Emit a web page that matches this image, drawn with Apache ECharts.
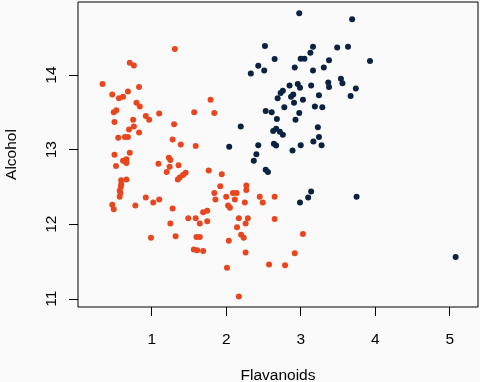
<!DOCTYPE html>
<html>
<head>
<meta charset="utf-8">
<script src="https://cdn.jsdelivr.net/npm/echarts@6/dist/echarts.min.js"></script>
<style>
html, body { margin: 0; padding: 0; background: #fafafa; }
#chart { width: 480px; height: 382px; }
</style>
</head>
<body>
<div id="chart"></div>
<script>
// tick labels
var xTicks = [1, 2, 3, 4, 5]
var yTicks = [11, 12, 13, 14]

// orange group
var orangeFlav = [1.31,0.705,0.76,0.34,0.83,0.47,0.56,0.615,0.68,1.10,
    0.795,0.84,0.49,0.525,0.92,0.965,0.50,0.75,1.30,0.76,
    0.695,0.83,0.55,0.64,0.68,1.28,1.39,0.50,0.705,0.615,
    0.66,0.66,0.52,1.23,1.25,1.09,1.36,1.24,1.20,1.455,
    1.42,1.375,1.35,0.66,0.59,0.59,0.585,0.57,0.58,0.57,
    0.92,1.10,1.02,0.78,0.47,0.49,1.28,1.49,1.25,0.99,
    1.32,1.59,1.765,1.94,1.92,2.27,2.27,1.84,1.855,2.09,
    2.14,2.0,2.115,2.45,2.65,2.25,2.49,2.025,2.05,1.69,
    1.745,1.59,1.645,1.745,2.17,2.29,2.26,2.65,2.145,2.20,
    2.235,1.60,1.645,2.035,1.565,1.61,1.69,2.26,2.01,2.17,
    2.575,2.79,2.92,3.03,1.79,1.57,1.84]
var orangeAlc = [14.35,14.165,14.13,13.88,13.84,13.74,13.69,13.71,13.78,13.485,
    13.63,13.58,13.50,13.53,13.45,13.40,13.37,13.40,13.34,13.31,
    13.27,13.23,13.16,13.17,13.17,13.135,13.07,12.93,12.96,12.85,
    12.87,12.82,12.78,12.89,12.86,12.81,12.79,12.77,12.70,12.69,
    12.66,12.625,12.60,12.60,12.59,12.535,12.50,12.45,12.42,12.37,
    12.36,12.33,12.29,12.25,12.26,12.20,12.21,12.08,12.01,11.82,
    11.84,13.05,12.72,12.67,12.51,12.52,12.46,12.42,12.33,12.42,
    12.42,12.37,12.33,12.37,12.37,12.29,12.29,12.25,12.22,12.16,
    12.18,12.08,12.01,12.04,12.08,12.08,12.01,12.07,11.96,11.86,
    11.82,11.83,11.83,11.78,11.66,11.65,11.64,11.62,11.415,11.03,
    11.46,11.45,11.61,11.87,13.67,13.50,13.49]

// navy group
var navyFlav = [2.98,3.69,2.52,3.165,3.13,3.49,3.635,2.65,3.0,3.05,
    3.38,3.93,2.43,2.51,2.33,2.92,3.165,3.31,2.85,2.76,
    2.73,2.96,2.99,3.14,2.90,2.87,2.69,3.245,3.37,3.38,
    3.03,2.91,3.54,3.56,3.74,3.67,3.19,3.29,2.78,2.53,
    2.61,2.98,2.68,2.93,2.195,2.67,2.63,2.72,2.76,3.23,
    3.245,3.17,3.28,2.43,2.64,2.67,3.0,2.89,2.04,2.405,
    2.37,2.53,2.56,3.14,3.10,2.99,3.75,5.08]
var navyAlc = [14.83,14.75,14.39,14.38,14.30,14.37,14.38,14.215,14.22,14.22,
    14.20,14.19,14.125,14.06,14.02,14.10,14.06,14.10,13.86,13.79,
    13.76,13.88,13.83,13.86,13.74,13.71,13.69,13.73,13.90,13.84,
    13.67,13.63,13.95,13.89,13.82,13.72,13.58,13.57,13.57,13.52,
    13.50,13.49,13.41,13.40,13.31,13.28,13.25,13.24,13.20,13.30,
    13.17,13.11,13.06,13.06,13.08,13.055,13.06,12.99,13.04,12.94,
    12.85,12.73,12.70,12.44,12.36,12.29,12.37,11.56]

function pairs(xs, ys) {
    return xs.map(function(x, i) { return [x, ys[i]] })
}

var font = 'Liberation Sans, Arial, sans-serif'
var txt = { color: '#000', fontSize: 15.5, fontFamily: font }

var option = {
    backgroundColor: '#fafafa',
    animation: false,
    grid: {
        left: 78, right: 2, top: 2, bottom: 75,
        outerBoundsMode: 'none', // 不要自动收缩绘图区
        containLabel: false,
        show: true,
        borderColor: '#000',
        borderWidth: 1,
        backgroundColor: 'transparent'
    },
    xAxis: {
        type: 'value',
        min: 0.01,
        max: 5.38,
        name: 'Flavanoids',
        nameLocation: 'middle',
        nameGap: 61,
        nameTextStyle: txt,
        axisLine: { show: false },
        splitLine: { show: false },
        axisTick: { show: true, length: 9, customValues: xTicks, lineStyle: { color: '#000' } },
        axisLabel: Object.assign({ customValues: xTicks, margin: 25 }, txt)
    },
    yAxis: {
        type: 'value',
        min: 10.89,
        max: 14.98,
        name: 'Alcohol',
        nameLocation: 'middle',
        nameRotate: 90,
        nameGap: 58,
        nameTextStyle: txt,
        axisLine: { show: false },
        splitLine: { show: false },
        axisTick: { show: true, length: 9, customValues: yTicks, lineStyle: { color: '#000' } },
        axisLabel: Object.assign({ customValues: yTicks, rotate: 90, margin: 18 }, txt)
    },
    series: [{
        type: 'scatter',
        symbolSize: 6,
        silent: true,
        itemStyle: { color: '#E8461E', opacity: 1 },
        data: pairs(orangeFlav, orangeAlc)
    }, {
        type: 'scatter',
        symbolSize: 6,
        silent: true,
        itemStyle: { color: '#0B2341', opacity: 1 },
        data: pairs(navyFlav, navyAlc)
    }]
}

var chart = echarts.init(document.getElementById('chart'))
chart.setOption(option)
window.addEventListener('resize', function() {
    chart.resize()
})
</script>
</body>
</html>
